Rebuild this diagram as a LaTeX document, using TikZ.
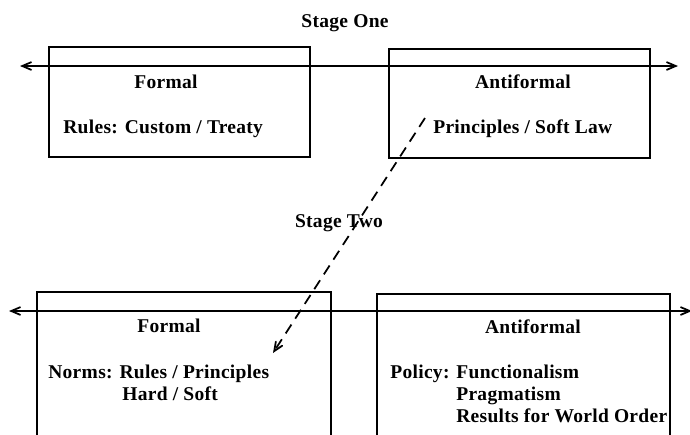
\documentclass[tikz,border=0pt]{standalone}
\usepackage{fontspec}
\setmainfont{Liberation Serif}[LetterSpace=1.5]
\usetikzlibrary{arrows,positioning}
\tikzstyle{Abox}=[draw,line width=1pt,anchor=north west,inner sep=0]
\tikzstyle{Atitle}=[font=\bfseries\fontsize{11.1}{13}\selectfont,anchor=base,inner sep=0]
\tikzstyle{Atext}=[font=\bfseries\fontsize{11.1}{13}\selectfont,anchor=base west,inner sep=0]
\tikzstyle{axis}=[<->,>=angle 45,line width=1pt]
\tikzstyle{move}=[->,>=angle 45,line width=1pt,dashed,dash pattern=on 6pt off 4pt]

\begin{document}
\begin{tikzpicture}[x=0.02cm,y=-0.02cm]
	\clip (0,0) rectangle (690,434);
	% stage one
	\node[Atitle] (s_1) at (345,27) {Stage One};
	\node[Abox,minimum width=5.22cm,minimum height=2.2cm] (f_1) at (48,46) {};
	\node[Abox,minimum width=5.22cm,minimum height=2.18cm] (a_1) at (388,48) {};
	\coordinate (l_1) at (20,66);
	\coordinate (r_1) at (678,66);
	\draw[axis] (l_1) -- (r_1);
	\node[Atitle] (f_1t) at (166,88) {Formal};
	\node[Atext] (f_1x) at (63,133) {Rules: Custom / Treaty};
	\node[Atitle] (a_1t) at (523,88) {Antiformal};
	\node[Atext] (a_1x) at (433,133) {Principles / Soft Law};
	% stage two
	\node[Atitle] (s_2) at (339,227) {Stage Two};
	\node[Abox,minimum width=5.88cm,minimum height=3.2cm] (f_2) at (36,291) {};
	\node[Abox,minimum width=5.86cm,minimum height=3.2cm] (a_2) at (376,293) {};
	\coordinate (l_2) at (9,311);
	\coordinate (r_2) at (692,311);
	\draw[axis] (l_2) -- (r_2);
	\node[Atitle] (f_2t) at (169,332) {Formal};
	\node[Atext] (f_2x) at (48,378) {Norms: Rules / Principles};
	\node[Atext] (f_2y) at (122,400) {Hard / Soft};
	\node[Atitle] (a_2t) at (533,333) {Antiformal};
	\node[Atext] (a_2x) at (390,378) {Policy: Functionalism};
	\node[Atext] (a_2y) at (456,400) {Pragmatism};
	\node[Atext] (a_2z) at (456,422) {Results for World Order};
	% shift
	\coordinate (m_1) at (425,118);
	\coordinate (m_2) at (273,353);
	\draw[move] (m_1) -- (m_2);
\end{tikzpicture}
\end{document}
